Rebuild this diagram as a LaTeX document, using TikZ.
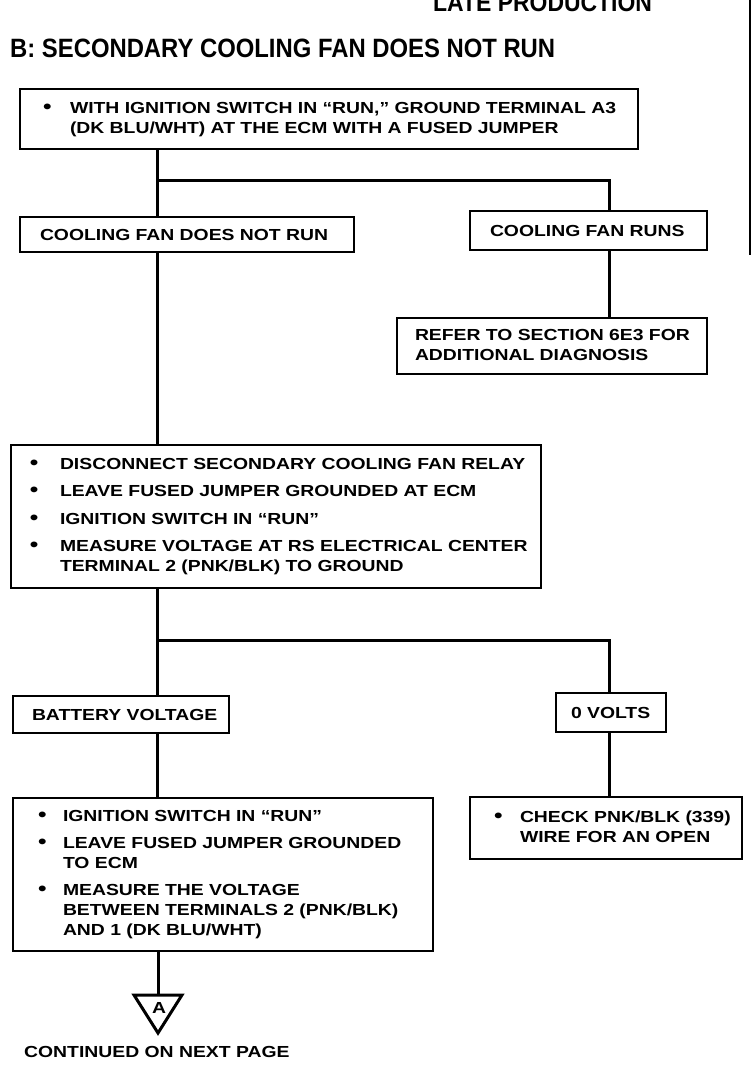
\documentclass[tikz,border=0pt]{standalone}
\usepackage{fontspec}
\setmainfont{Liberation Sans}
\newfontfamily\bodyfont[FakeStretch=1.21]{Liberation Sans}
\newfontfamily\titlefont[FakeStretch=0.9]{Liberation Sans}
\usetikzlibrary{calc}
\newcommand\bul{{\fontsize{20}{20}\selectfont\textbullet}}
\tikzset{
  box/.style={draw, line width=1.6pt, anchor=north west, outer sep=0pt, inner ysep=0pt,
    align=left, font=\bodyfont\bfseries\fontsize{16}{20}\selectfont},
  conn/.style={line width=3pt},
  bodytext/.style={font=\bodyfont\bfseries\fontsize{16}{20}\selectfont, inner sep=0pt},
  titletext/.style={font=\titlefont\bfseries\fontsize{26.5}{30}\selectfont, inner sep=0pt}
}
\begin{document}
\begin{tikzpicture}[x=1pt,y=-1pt]
\useasboundingbox (0,0) rectangle (752,1088);
\fill[white] (0,0) rectangle (752,1088);
\node[titletext, anchor=base west, font=\titlefont\bfseries\fontsize{25.5}{28}\selectfont] (late) at (433,11) {LATE PRODUCTION};
\node[titletext, anchor=base west] (title) at (10,57) {B: SECONDARY COOLING FAN DOES NOT RUN};
\coordinate (mt) at (750,0);
\coordinate (mb) at (750,255);
\draw[line width=1.5pt] (mt) -- (mb);

\node[box, inner xsep=23pt, text width=572pt, minimum height=60pt] (b1) at (20,89)
 {\begin{tabular}{@{}p{27pt}@{}l@{}}\bul & WITH IGNITION SWITCH IN “RUN,” GROUND TERMINAL A3\\
   & (DK BLU/WHT) AT THE ECM WITH A FUSED JUMPER\end{tabular}};
\node[box, inner xsep=20pt, text width=294pt, minimum height=35pt] (b2) at (20,217) {\mbox{COOLING FAN DOES NOT RUN}};
\node[box, inner xsep=20pt, text width=197pt, minimum height=39pt] (b3) at (470,211) {\mbox{COOLING FAN RUNS}};
\node[box, inner xsep=18pt, text width=274pt, minimum height=56pt] (b4) at (397,318)
 {\begin{tabular}{@{}l@{}}REFER TO SECTION 6E3 FOR\\ADDITIONAL DIAGNOSIS\end{tabular}};
\node[box, inner xsep=19pt, text width=492pt, minimum height=143pt] (b5) at (11,445)
 {\begin{tabular}{@{}p{30pt}@{}l@{}}\bul & DISCONNECT SECONDARY COOLING FAN RELAY\\[7.5pt]
   \bul & LEAVE FUSED JUMPER GROUNDED AT ECM\\[7.5pt]
   \bul & IGNITION SWITCH IN “RUN”\\[7.5pt]
   \bul & MEASURE VOLTAGE AT RS ELECTRICAL CENTER\\
   & TERMINAL 2 (PNK/BLK) TO GROUND\end{tabular}};
\node[box, inner xsep=19pt, text width=178pt, minimum height=37pt] (b6) at (13,696) {\mbox{BATTERY VOLTAGE}};
\node[box, inner xsep=15pt, text width=80pt, minimum height=39pt] (b7) at (556,693) {\mbox{0 VOLTS}};
\node[box, inner xsep=25pt, text width=370pt, minimum height=153pt] (b8) at (13,798)
 {\begin{tabular}{@{}p{25pt}@{}l@{}}\bul & IGNITION SWITCH IN “RUN”\\[7pt]
   \bul & LEAVE FUSED JUMPER GROUNDED\\
   & TO ECM\\[7pt]
   \bul & MEASURE THE VOLTAGE\\
   & BETWEEN TERMINALS 2 (PNK/BLK)\\
   & AND 1 (DK BLU/WHT)\end{tabular}};
\node[box, inner xsep=24pt, text width=224pt, minimum height=62pt] (b9) at (470,797)
 {\begin{tabular}{@{}p{26pt}@{}l@{}}\bul & CHECK PNK/BLK (339)\\
   & WIRE FOR AN OPEN\end{tabular}};

\coordinate (jl1) at (157,180);
\coordinate (jr1) at (609,180);
\coordinate (jl2) at (157,640);
\coordinate (jr2) at (609,640);
\coordinate (tri) at (158,995);

\draw[conn] (b1.south -| jl1) -- (b2.north -| jl1);
\draw[conn] (jl1) -- (jr1) -- (b3.north -| jr1);
\draw[conn] (b3.south -| jr1) -- (b4.north -| jr1);
\draw[conn] (b2.south -| jl1) -- (b5.north -| jl1);
\draw[conn] (b5.south -| jl2) -- (b6.north -| jl2);
\draw[conn] (jl2) -- (jr2) -- (b7.north -| jr2);
\draw[conn] (b6.south -| jl2) -- (b8.north -| jl2);
\draw[conn] (b7.south -| jr2) -- (b9.north -| jr2);
\draw[conn] (b8.south -| tri) -- (tri);

\draw[line width=3pt, line join=miter] ($(tri)+(-24,0)$) -- ($(tri)+(24,0)$) -- ($(tri)+(0,38)$) -- cycle;
\node[bodytext] (A) at ($(tri)+(1,13)$) {A};
\node[bodytext, anchor=base west] (cont) at (24,1057) {CONTINUED ON NEXT PAGE};
\end{tikzpicture}
\end{document}
